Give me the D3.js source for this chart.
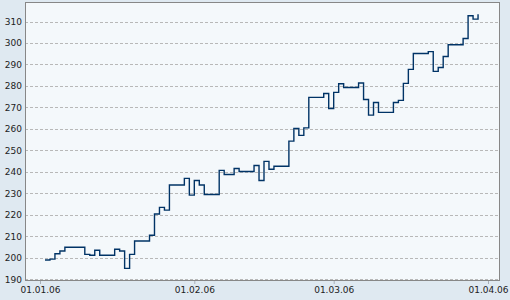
<!DOCTYPE html>
<html>
<head>
<meta charset="utf-8">
<script src="https://cdn.jsdelivr.net/npm/d3@7"></script>
<style>
  body { margin: 0; background: #dfe9f1; }
  .chart text { font-family: "DejaVu Sans", Verdana, sans-serif; font-size: 9px; fill: #222; }
</style>
</head>
<body>
<div class="chart"></div>
<script>
// step points (date, value)
const dates = [
  "2006-01-02","2006-01-03","2006-01-04","2006-01-05","2006-01-06",
  "2006-01-10","2006-01-11","2006-01-12","2006-01-13",
  "2006-01-16","2006-01-17","2006-01-18","2006-01-19","2006-01-20",
  "2006-01-23","2006-01-24","2006-01-25","2006-01-26","2006-01-27",
  "2006-01-30","2006-01-31","2006-02-01","2006-02-02","2006-02-03",
  "2006-02-06","2006-02-07","2006-02-09","2006-02-10",
  "2006-02-13","2006-02-14","2006-02-15","2006-02-16","2006-02-17",
  "2006-02-20","2006-02-21","2006-02-22","2006-02-23","2006-02-24",
  "2006-02-27","2006-02-28","2006-03-01","2006-03-02","2006-03-03",
  "2006-03-06","2006-03-07","2006-03-08","2006-03-09","2006-03-10",
  "2006-03-13","2006-03-14","2006-03-15","2006-03-16","2006-03-17",
  "2006-03-20","2006-03-21","2006-03-22","2006-03-23","2006-03-24",
  "2006-03-27","2006-03-28","2006-03-29","2006-03-30"
];
const values = [
  199.0, 199.4, 201.9, 203.2, 204.9,
  201.6, 201.2, 203.5, 201.2,
  204.0, 203.2, 195.1, 201.6, 207.8,
  210.5, 220.4, 223.5, 222.2, 233.9,
  237.0, 229.2, 236.0, 233.9, 229.5,
  240.7, 238.8, 241.6, 240.2,
  243.0, 236.0, 244.9, 241.2, 242.6,
  254.3, 260.2, 257.0, 260.5, 274.7,
  276.5, 269.5, 277.0, 281.0, 279.3,
  281.4, 273.7, 266.4, 272.3, 267.7,
  272.3, 273.3, 281.2, 287.7, 295.1,
  296.0, 286.8, 288.6, 293.7, 299.2,
  302.1, 312.7, 311.1, 313.4
];
const yTicks = [190, 200, 210, 220, 230, 240, 250, 260, 270, 280, 290, 300, 310];
const xTicks = ["2006-01-01", "2006-02-01", "2006-03-01", "2006-04-01"];

const parse = d3.timeParse("%Y-%m-%d");
const data = dates.map((d, i) => ({ date: parse(d), value: values[i] }));

const width = 510, height = 300;
const frame = { left: 25, right: 500, top: 2, bottom: 281 };

const svg = d3.select('.chart').append('svg')
    .attr('width', width)
    .attr('height', height);

const x = d3.scaleTime()
    .domain([parse("2006-01-01"), parse("2006-04-01")])
    .range([40, 488]);

const y = d3.scaleLinear()
    .domain([190, 310])
    .range([279.3, 21.5]);

// plot background
svg.append('rect')
    .attr('x', frame.left)
    .attr('y', frame.top)
    .attr('width', frame.right - frame.left)
    .attr('height', frame.bottom - frame.top)
    .attr('fill', '#f4f8fb');

// dashed grid
svg.append('g')
    .selectAll('line')
    .data(yTicks)
    .join('line')
    .attr('x1', frame.left)
    .attr('x2', frame.right)
    .attr('y1', d => Math.round(y(d)) + 0.5)
    .attr('y2', d => Math.round(y(d)) + 0.5)
    .attr('stroke', '#b8b8b8')
    .attr('stroke-dasharray', '3,2');

// y labels
const yAxis = svg.append('g')
    .attr('transform', `translate(${frame.left},0)`)
    .call(d3.axisLeft(y).tickValues(yTicks).tickSize(0).tickPadding(3));
yAxis.select('.domain').remove();

// x axis
const xAxis = svg.append('g')
    .attr('transform', `translate(0,${frame.bottom})`)
    .call(d3.axisBottom(x)
        .tickValues(xTicks.map(parse))
        .tickFormat(d3.timeFormat("%d.%m.%y"))
        .tickSize(3)
        .tickPadding(3));
xAxis.select('.domain').remove();
xAxis.selectAll('.tick line').attr('stroke', '#a8b0b8');
yAxis.selectAll('text').attr('fill', '#222');
xAxis.selectAll('text').attr('fill', '#222');

// the line
const line = d3.line()
    .x(d => x(d.date))
    .y(d => y(d.value))
    .curve(d3.curveStepAfter);

svg.append('path')
    .datum(data)
    .attr('d', line)
    .attr('fill', 'none')
    .attr('stroke', '#003366')
    .attr('stroke-width', 1.4);

// frame border
svg.append('rect')
    .attr('x', frame.left + 0.5)
    .attr('y', frame.top + 0.5)
    .attr('width', frame.right - frame.left - 1)
    .attr('height', frame.bottom - frame.top - 1)
    .attr('fill', 'none')
    .attr('stroke', '#878787');
</script>
</body>
</html>
